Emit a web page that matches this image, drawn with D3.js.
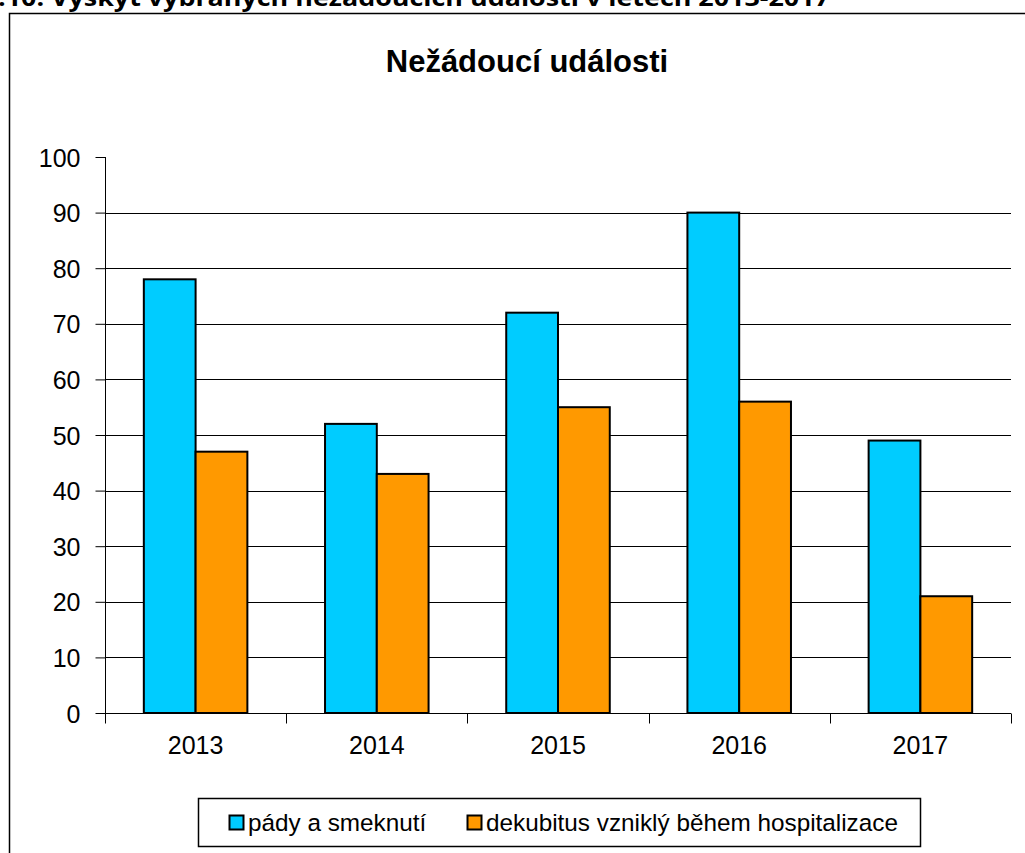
<!DOCTYPE html>
<meta charset="utf-8">
<style>
body { margin: 0; background: #fff; }
text { font-family: Arial, "Liberation Sans", sans-serif; fill: #000; }
.caption { font-family: "Open Sans", sans-serif; font-weight: bold; }
.bar { stroke: #000; stroke-width: 2; }
</style>
<body>
<script src="https://cdn.jsdelivr.net/npm/d3@7"></script>
<script>
// data
var years = ["2013", "2014", "2015", "2016", "2017"];
var seriesNames = ["pády a smeknutí", "dekubitus vzniklý během hospitalizace"];
var pady = [78, 52, 72, 90, 49];
var dekubitus = [47, 43, 55, 56, 21];
var yTicks = [0, 10, 20, 30, 40, 50, 60, 70, 80, 90, 100];
var colors = ["#00CCFF", "#FF9900"];

var width = 1025, height = 853;

var svg = d3.select("body").append("svg")
    .attr("width", width)
    .attr("height", height);

// caption of the document, cut off at the top
svg.append("text")
    .attr("class", "caption")
    .attr("x", -2)
    .attr("y", 6)
    .attr("textLength", 832)
    .attr("lengthAdjust", "spacingAndGlyphs")
    .style("font-size", "24px")
    .text(".10. Výskyt vybraných nežádoucích událostí v letech 2013-2017");

// chart frame (runs off the right and bottom edges)
svg.append("rect")
    .attr("x", 9.5)
    .attr("y", 13.5)
    .attr("width", 1040)
    .attr("height", 860)
    .attr("fill", "none")
    .attr("stroke", "#000")
    .attr("stroke-width", 1.5);

svg.append("text")
    .attr("x", 527)
    .attr("y", 72)
    .attr("text-anchor", "middle")
    .style("font-size", "31px")
    .style("font-weight", "bold")
    .text("Nežádoucí události");

// scales
var x0 = d3.scaleBand()
    .domain(years)
    .range([105, 1011])
    .padding(0);
var x1 = d3.scaleBand()
    .domain([0, 1])
    .range([0, x0.bandwidth()])
    .paddingInner(0)
    .paddingOuter(0.75);
var y = d3.scaleLinear()
    .domain([0, 100])
    .range([713, 157]);

// gridlines
svg.append("g")
    .selectAll("line")
    .data(yTicks.filter(function(d) { return d > 0 && d < 100; }))
  .enter().append("line")
    .attr("x1", 105)
    .attr("x2", 1011)
    .attr("y1", function(d) { return Math.round(y(d)) + 0.5; })
    .attr("y2", function(d) { return Math.round(y(d)) + 0.5; })
    .attr("stroke", "#000")
    .attr("stroke-width", 1);

// bars
var rows = years.map(function(yr, i) { return {year: yr, values: [pady[i], dekubitus[i]]}; });

var groups = svg.append("g")
    .selectAll("g")
    .data(rows)
  .enter().append("g")
    .attr("transform", function(d) { return "translate(" + x0(d.year) + ",0)"; });

groups.selectAll("rect")
    .data(function(d) { return d.values.map(function(v, k) { return {k: k, v: v}; }); })
  .enter().append("rect")
    .attr("class", "bar")
    .attr("x", function(d) { return x1(d.k); })
    .attr("width", x1.bandwidth())
    .attr("y", function(d) { return y(d.v); })
    .attr("height", function(d) { return y(0) - y(d.v); })
    .attr("fill", function(d) { return colors[d.k]; });

// y axis
var yAxis = svg.append("g")
    .attr("transform", "translate(105.5,0)")
    .call(d3.axisLeft(y).tickValues(yTicks).tickSize(10).tickPadding(15));
yAxis.selectAll("text").style("font-size", "25px").attr("dy", "0.36em");
yAxis.select(".domain").attr("d", "M0," + y(100) + "V" + y(0)).attr("stroke", "#000");

// x axis, ticks on category boundaries
var xAxis = svg.append("g")
    .attr("transform", "translate(0," + (Math.round(y(0)) + 0.5) + ")");
xAxis.append("line")
    .attr("x1", 105).attr("x2", 1011)
    .attr("stroke", "#000");
xAxis.selectAll(".xtick")
    .data(years.map(function(d) { return x0(d); }).concat([1011]))
  .enter().append("line")
    .attr("x1", function(d) { return Math.round(d) + 0.5; })
    .attr("x2", function(d) { return Math.round(d) + 0.5; })
    .attr("y1", 0).attr("y2", 10)
    .attr("stroke", "#000");
xAxis.selectAll(".xlabel")
    .data(years)
  .enter().append("text")
    .attr("x", function(d) { return x0(d) + x0.bandwidth() / 2; })
    .attr("y", 40)
    .attr("text-anchor", "middle")
    .style("font-size", "25px")
    .text(function(d) { return d; });

// legend
var legend = svg.append("g");
legend.append("rect")
    .attr("x", 198.5).attr("y", 798.5)
    .attr("width", 722).attr("height", 48)
    .attr("fill", "#fff")
    .attr("stroke", "#000")
    .attr("stroke-width", 1.5);

var legendX = [229, 467];
var items = legend.selectAll(".item")
    .data(seriesNames)
  .enter().append("g")
    .attr("transform", function(d, i) { return "translate(" + legendX[i] + ",0)"; });
items.append("rect")
    .attr("x", 0.5).attr("y", 815.5)
    .attr("width", 14).attr("height", 14)
    .attr("fill", function(d, i) { return colors[i]; })
    .attr("stroke", "#000")
    .attr("stroke-width", 2);
items.append("text")
    .attr("x", 19)
    .attr("y", 831)
    .style("font-size", "24.3px")
    .text(function(d) { return d; });
</script>
</body>
